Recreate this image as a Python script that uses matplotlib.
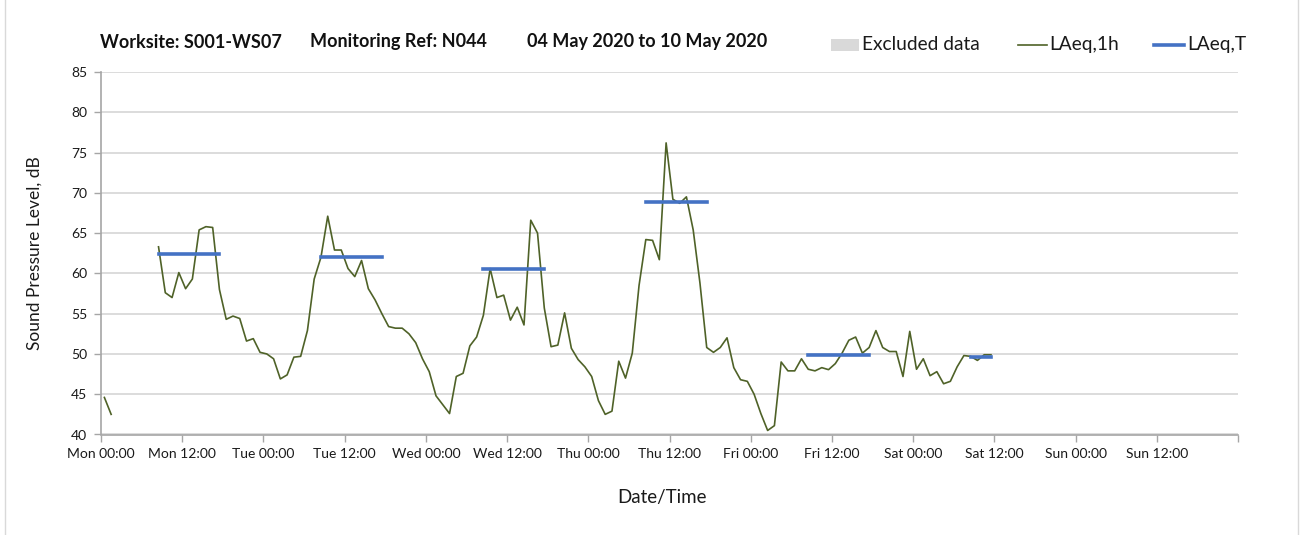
import matplotlib
matplotlib.use('Agg')
import matplotlib.pyplot as plt
import numpy as np
from matplotlib.lines import Line2D
from matplotlib.patches import Rectangle
from matplotlib.ticker import MultipleLocator

plt.rcParams['font.family'] = ['Lato', 'DejaVu Sans']

# Hourly LAeq,1h values (index = hours since Mon 00:00), nan = no data
laeq_1h = [44.6, 42.5, np.nan, np.nan, np.nan, np.nan, np.nan, np.nan,
           63.3, 57.6, 57.0, 60.1, 58.1, 59.3, 65.4, 65.8, 65.7, 58.0,
           54.3, 54.7, 54.4, 51.6, 51.9, 50.2,
           50.0, 49.4, 46.9, 47.4, 49.6, 49.7, 52.9, 59.3, 62.0, 67.1,
           62.9, 62.9, 60.6, 59.6, 61.6, 58.1, 56.7, 55.0, 53.4, 53.2,
           53.2, 52.5, 51.4, 49.4,
           47.8, 44.8, 43.7, 42.6, 47.2, 47.6, 51.0, 52.1, 54.8, 60.6,
           57.0, 57.3, 54.2, 55.8, 53.6, 66.6, 65.0, 55.7, 50.9, 51.1,
           55.1, 50.7, 49.3, 48.4,
           47.2, 44.2, 42.5, 42.9, 49.1, 47.0, 50.1, 58.5, 64.2, 64.1,
           61.7, 76.2, 69.2, 68.7, 69.5, 65.4, 58.8, 50.8, 50.2, 50.8,
           52.0, 48.3, 46.8, 46.6,
           45.0, 42.6, 40.5, 41.1, 49.0, 47.9, 47.9, 49.4, 48.1, 47.9,
           48.3, 48.05, 48.8, 50.1, 51.7, 52.1, 50.1, 50.8, 52.9, 50.8,
           50.3, 50.3, 47.2, 52.8,
           48.1, 49.4, 47.3, 47.8, 46.3, 46.6, 48.4, 49.8, 49.7, 49.2,
           49.9, 49.9]

# LAeq,T per day (period start / end hour of day)
laeq_t = [62.4, 62.0, 60.6, 68.9, 49.9, 49.6]
period_start = [8, 8, 8, 8, 8, 8]
period_end = [18, 18, 18, 18, 18, 12]

days = ['Mon', 'Tue', 'Wed', 'Thu', 'Fri', 'Sat', 'Sun']
times = ['00:00', '12:00']
tick_labels = [f'{d} {t}' for d in days for t in times] + ['']

title_parts = ['Worksite: S001-WS07', 'Monitoring Ref: N044', '04 May 2020 to 10 May 2020']
title_x = [100, 310, 527]

W, H = 1301, 535
fig = plt.figure(figsize=(W / 100, H / 100), dpi=100)
ax = fig.add_axes([101 / W, 1 - 434.5 / H, (1238 - 101) / W, (434.5 - 72) / H])

hours = np.arange(len(laeq_1h)) + 0.5
ax.plot(hours, laeq_1h, color='#4f6228', lw=1.2, zorder=3)
for d, (v, s, e) in enumerate(zip(laeq_t, period_start, period_end)):
    ax.plot([d * 24 + s + 0.5, d * 24 + e - 0.5], [v, v], color='#4472c4',
            lw=2.6, solid_capstyle='projecting', zorder=4)

ax.set_xlim(0, 168)
ax.set_ylim(40, 85)
ax.set_xticks(np.arange(0, 169, 12))
ax.set_xticklabels(tick_labels)
ax.xaxis.set_minor_locator(MultipleLocator(24))
ax.set_yticks(np.arange(40, 86, 5))

gc = '#d9d9d9'
ax.grid(which='minor', axis='x', color=gc, lw=1.3)
ax.grid(which='major', axis='y', color=gc, lw=1.3)
ax.set_axisbelow(True)
ax.tick_params(axis='x', which='minor', length=0)
ax.tick_params(axis='both', which='major', length=5, width=1, color='#a6a6a6',
               labelsize=10, labelcolor='#1a1a1a', pad=5)
for sp in ['top', 'right']:
    ax.spines[sp].set_visible(False)
for sp in ['left', 'bottom']:
    ax.spines[sp].set_color('#a6a6a6')
    ax.spines[sp].set_linewidth(1.2)

fig.text(35 / W, 1 - 253 / H, 'Sound Pressure Level, dB', rotation=90,
         ha='center', va='center', fontsize=12.5, color='#1a1a1a')
fig.text(662 / W, 1 - 498 / H, 'Date/Time', ha='center', va='center',
         fontsize=13.5, color='#1a1a1a')
for tx, tp in zip(title_x, title_parts):
    fig.text(tx / W, 1 - 42 / H, tp, ha='left', va='center', fontsize=13,
             fontweight='bold', color='#111111')

# legend
ly = 1 - 44.5 / H
fig.add_artist(Rectangle((831 / W, 1 - 51 / H), 28 / W, 12 / H,
                         transform=fig.transFigure, color='#d9d9d9', lw=0))
fig.text(862 / W, ly, 'Excluded data', ha='left', va='center', fontsize=13.8,
         color='#1a1a1a')
fig.add_artist(Line2D([1018 / W, 1047 / W], [ly, ly], transform=fig.transFigure,
                      color='#4f6228', lw=1.2))
fig.text(1049 / W, ly, 'LAeq,1h', ha='left', va='center', fontsize=13.8,
         color='#1a1a1a')
fig.add_artist(Line2D([1154 / W, 1184 / W], [ly, ly], transform=fig.transFigure,
                      color='#4472c4', lw=2.6))
fig.text(1187 / W, ly, 'LAeq,T', ha='left', va='center', fontsize=13.8,
         color='#1a1a1a')

# outer frame lines
for x in (5, 1298):
    fig.add_artist(Line2D([x / W, x / W], [0, 1], transform=fig.transFigure,
                          color='#d9d9d9', lw=1))

fig.savefig('out.png', dpi=100)
